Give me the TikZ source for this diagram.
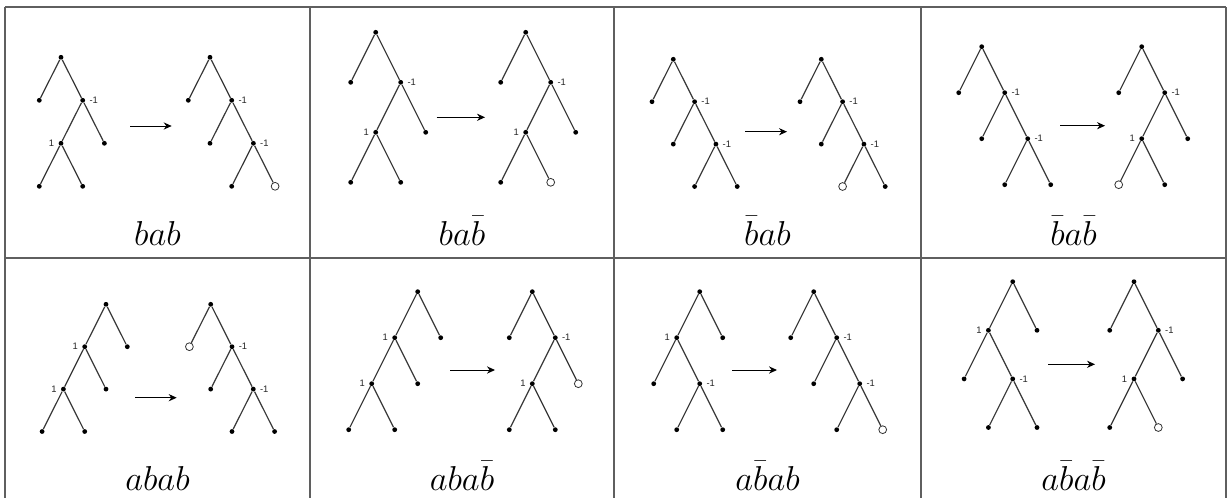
\documentclass[tikz,border=0pt]{standalone}
\usepackage{fontspec}
\usepackage{tikz}
\usetikzlibrary{arrows.meta}
\newfontfamily\numfont{Liberation Sans}
\definecolor{GridGray}{RGB}{95,95,95}
\definecolor{EdgeGray}{RGB}{55,55,55}
\tikzset{
  dotnode/.style={circle, fill=black, inner sep=0pt, minimum size=2.4pt},
  holenode/.style={circle, fill=white, draw=black!80, line width=0.4pt, inner sep=0pt, minimum size=3.9pt},
  numlbl/.style={font=\numfont\fontsize{4.7}{5}\selectfont, inner sep=0.4pt, text=black!85},
  lblneg/.style={label={[numlbl]right:-1}},
  lblpos/.style={label={[numlbl]left:1}},
  celllbl/.style={font=\LARGE, anchor=base, inner sep=0pt},
  gridline/.style={GridGray, line width=0.9pt},
  arrowline/.style={-{Stealth[length=4pt,width=3.6pt]}, line width=0.5pt}
}

\begin{document}
\begin{tikzpicture}[x=0.5pt, y=-0.5pt, label distance=1.4pt,
    every child node/.style={dotnode},
    edge from parent/.style={draw, EdgeGray, line width=0.6pt}]
  \useasboundingbox (0,0) rectangle (1229,498);
  % table
  \draw[gridline] (5,7) -- (1226,7);
  \draw[gridline] (5,258) -- (1226,258);
  \foreach \xc in {5,310,614,921,1226}
    \draw[gridline] (\xc,7) -- (\xc,498);

  % bab
  \begin{scope}[level distance=21.5pt, sibling distance=21.7pt]
    \node[dotnode] (t1a) at (61,57.3) {}
      child {node {}}
      child {node[lblneg] {}
        child {node[lblpos] {} child {node {}} child {node {}}}
        child {node {}}};
    \node[dotnode] (t1b) at (210,57.3) {}
      child {node {}}
      child {node[lblneg] {}
        child {node {}}
        child {node[lblneg] {} child {node {}} child {node[holenode] {}}}};
    \coordinate (a1s) at (130,126);
    \coordinate (a1e) at (171.7,126);
    \draw[arrowline] (a1s) -- (a1e);
  \end{scope}
  \node[celllbl] (lab1) at (157.5,245) {$bab$};

  % ba\bar b
  \begin{scope}[level distance=25pt, sibling distance=25pt]
    \node[dotnode] (t2a) at (375.7,32.3) {}
      child {node {}}
      child {node[lblneg] {}
        child {node[lblpos] {} child {node {}} child {node {}}}
        child {node {}}};
    \node[dotnode] (t2b) at (525.7,32.3) {}
      child {node {}}
      child {node[lblneg] {}
        child {node[lblpos] {} child {node {}} child {node[holenode] {}}}
        child {node {}}};
    \coordinate (a2s) at (436.7,117.3);
    \coordinate (a2e) at (485,117.3);
    \draw[arrowline] (a2s) -- (a2e);
  \end{scope}
  \node[celllbl] (lab2) at (462,245) {$ba\bar{b}$};

  % \bar b ab
  \begin{scope}[level distance=21.2pt, sibling distance=21.3pt]
    \node[dotnode] (t3a) at (673.3,59.3) {}
      child {node {}}
      child {node[lblneg] {}
        child {node {}}
        child {node[lblneg] {} child {node {}} child {node {}}}};
    \node[dotnode] (t3b) at (821.3,59.3) {}
      child {node {}}
      child {node[lblneg] {}
        child {node {}}
        child {node[lblneg] {} child {node[holenode] {}} child {node {}}}};
    \coordinate (a3s) at (745.3,131.7);
    \coordinate (a3e) at (787,131.7);
    \draw[arrowline] (a3s) -- (a3e);
  \end{scope}
  \node[celllbl] (lab3) at (767.5,245) {$\bar{b}ab$};

  % \bar b a\bar b
  \begin{scope}[level distance=23pt, sibling distance=23pt]
    \node[dotnode] (t4a) at (981.7,46.7) {}
      child {node {}}
      child {node[lblneg] {}
        child {node {}}
        child {node[lblneg] {} child {node {}} child {node {}}}};
    \node[dotnode] (t4b) at (1141.7,46.7) {}
      child {node {}}
      child {node[lblneg] {}
        child {node[lblpos] {} child {node[holenode] {}} child {node {}}}
        child {node {}}};
    \coordinate (a4s) at (1060,125.7);
    \coordinate (a4e) at (1105,125.7);
    \draw[arrowline] (a4s) -- (a4e);
  \end{scope}
  \node[celllbl] (lab4) at (1073.5,245) {$\bar{b}a\bar{b}$};

  % abab
  \begin{scope}[level distance=21.2pt, sibling distance=21.3pt]
    \node[dotnode] (t5a) at (106,304.3) {}
      child {node[lblpos] {}
        child {node[lblpos] {} child {node {}} child {node {}}}
        child {node {}}}
      child {node {}};
    \node[dotnode] (t5b) at (210.7,304.3) {}
      child {node[holenode] {}}
      child {node[lblneg] {}
        child {node {}}
        child {node[lblneg] {} child {node {}} child {node {}}}};
    \coordinate (a5s) at (135,397.7);
    \coordinate (a5e) at (176.7,397.7);
    \draw[arrowline] (a5s) -- (a5e);
  \end{scope}
  \node[celllbl] (lab5) at (157.5,490) {$abab$};

  % aba\bar b
  \begin{scope}[level distance=23pt, sibling distance=23pt]
    \node[dotnode] (t6a) at (417.7,291.7) {}
      child {node[lblpos] {}
        child {node[lblpos] {} child {node {}} child {node {}}}
        child {node {}}}
      child {node {}};
    \node[dotnode] (t6b) at (532.3,291.7) {}
      child {node {}}
      child {node[lblneg] {}
        child {node[lblpos] {} child {node {}} child {node {}}}
        child {node[holenode] {}}};
    \coordinate (a6s) at (450,370);
    \coordinate (a6e) at (495,370);
    \draw[arrowline] (a6s) -- (a6e);
  \end{scope}
  \node[celllbl] (lab6) at (462,490) {$aba\bar{b}$};

  % a\bar b ab
  \begin{scope}[level distance=23pt, sibling distance=23pt]
    \node[dotnode] (t7a) at (699.7,291.7) {}
      child {node[lblpos] {}
        child {node {}}
        child {node[lblneg] {} child {node {}} child {node {}}}}
      child {node {}};
    \node[dotnode] (t7b) at (813.7,291.7) {}
      child {node {}}
      child {node[lblneg] {}
        child {node {}}
        child {node[lblneg] {} child {node {}} child {node[holenode] {}}}};
    \coordinate (a7s) at (732,370);
    \coordinate (a7e) at (777,370);
    \draw[arrowline] (a7s) -- (a7e);
  \end{scope}
  \node[celllbl] (lab7) at (767.5,490) {$a\bar{b}ab$};

  % a\bar b a\bar b
  \begin{scope}[level distance=24.3pt, sibling distance=24.3pt]
    \node[dotnode] (t8a) at (1012.7,281.7) {}
      child {node[lblpos] {}
        child {node {}}
        child {node[lblneg] {} child {node {}} child {node {}}}}
      child {node {}};
    \node[dotnode] (t8b) at (1134,281.7) {}
      child {node {}}
      child {node[lblneg] {}
        child {node[lblpos] {} child {node {}} child {node[holenode] {}}}
        child {node {}}};
    \coordinate (a8s) at (1048.3,364.3);
    \coordinate (a8e) at (1095,364.3);
    \draw[arrowline] (a8s) -- (a8e);
  \end{scope}
  \node[celllbl] (lab8) at (1073.5,490) {$a\bar{b}a\bar{b}$};
\end{tikzpicture}
\end{document}
